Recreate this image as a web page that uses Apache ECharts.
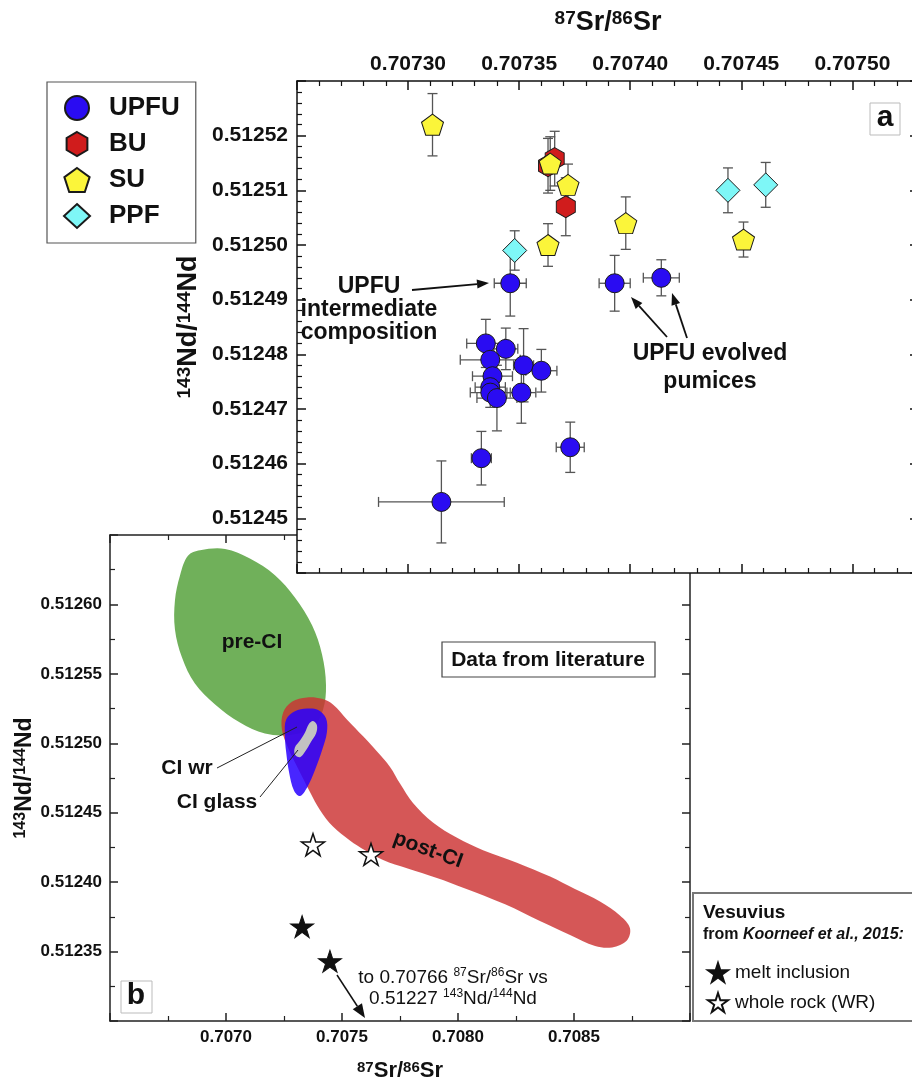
<!DOCTYPE html>
<html><head><meta charset="utf-8">
<script src="https://cdn.jsdelivr.net/npm/echarts@6/dist/echarts.min.js"></script>
<style>html,body{margin:0;padding:0;background:#fff}#c{width:912px;height:1084px}</style>
</head><body><div id="c"></div>
<script>
const FN = '"Liberation Sans",Arial,Helvetica,sans-serif';
const FS = '"Liberation Sans",Arial,Helvetica,sans-serif';

// ---------- Panel a : this study (87Sr/86Sr, 143Nd/144Nd) ----------
const upfu = [[0.707335,0.512482],[0.707344,0.512481],[0.707337,0.512479],[0.707352,0.512478],
  [0.707360,0.512477],[0.707338,0.512476],[0.707337,0.512474],[0.707337,0.512473],[0.707340,0.512472],
  [0.707351,0.512473],[0.707373,0.512463],[0.707333,0.512461],[0.707315,0.512453],[0.707346,0.512493],
  [0.707393,0.512493],[0.707414,0.512494]];
const upfuErr = [[0.0000086,0.0000044],[0.0000054,0.0000038],[0.0000135,0.0000027],[0.0000045,0.0000067],
  [0.0000070,0.0000039],[0.0000090,0.0000027],[0.0000068,0.0000022],[0.0000090,0.0000027],[0.0000090,0.0000060],
  [0.0000065,0.0000056],[0.0000063,0.0000046],[0.0000045,0.0000049],[0.0000283,0.0000075],[0.0000072,0.0000060],
  [0.0000070,0.0000051],[0.0000081,0.0000033]];
const bu = [[0.707366,0.5125158],[0.707363,0.5125145],[0.707371,0.512507]];
const buErr = [[0,0.0000050],[0,0.0000050],[0,0.0000053]];
const su = [[0.707311,0.512522],[0.707364,0.5125149],[0.707372,0.512511],[0.707398,0.512504],[0.707363,0.512500],[0.707451,0.512501]];
const suErr = [[0,0.0000057],[0,0.0000049],[0,0.0000038],[0,0.0000048],[0,0.0000039],[0,0.0000032]];
const ppf = [[0.707348,0.512499],[0.707444,0.512510],[0.707461,0.512511]];
const ppfErr = [[0,0.0000036],[0,0.0000041],[0,0.0000041]];

// ---------- Panel b : literature fields ----------
const preCI = [[0.706888,0.512639],[0.706996,0.512640],[0.707103,0.512633],[0.707211,0.512621],[0.707297,0.512605],
  [0.707371,0.512585],[0.707414,0.512564],[0.707431,0.512542],[0.707418,0.512524],[0.707371,0.512511],[0.707276,0.512506],
  [0.707168,0.512507],[0.707060,0.512515],[0.706953,0.512528],[0.706866,0.512543],[0.706810,0.512562],[0.706780,0.512582],
  [0.706780,0.512603],[0.706802,0.512621],[0.706836,0.512635]];
const postCI = [[0.707246,0.512522],[0.707284,0.512530],[0.707349,0.512533],[0.707414,0.512532],[0.707461,0.512528],
  [0.707522,0.512517],[0.707591,0.512505],[0.707651,0.512494],[0.707707,0.512483],[0.707750,0.512471],[0.707806,0.512457],
  [0.707892,0.512443],[0.707996,0.512432],[0.708108,0.512423],[0.708254,0.512414],[0.708397,0.512404],[0.708504,0.512395],
  [0.708612,0.512386],[0.708698,0.512376],[0.708741,0.512367],[0.708728,0.512358],[0.708664,0.512353],[0.708591,0.512354],
  [0.708483,0.512362],[0.708353,0.512372],[0.708203,0.512384],[0.708022,0.512396],[0.707909,0.512403],[0.707780,0.512410],
  [0.707677,0.512416],[0.707599,0.512423],[0.707534,0.512430],[0.707461,0.512440],[0.707405,0.512452],[0.707362,0.512465],
  [0.707310,0.512482],[0.707267,0.512497],[0.707241,0.512510]];
const ciGlass = [[0.707259,0.512517],[0.707297,0.512523],[0.707349,0.512525],[0.707397,0.512524],[0.707431,0.512518],
  [0.707435,0.512508],[0.707414,0.512495],[0.707384,0.512481],[0.707349,0.512468],[0.707319,0.512462],[0.707293,0.512466],
  [0.707272,0.512479],[0.707259,0.512494],[0.707254,0.512506]];
const ciWr = [[0.707358,0.512514],[0.707375,0.512516],[0.707392,0.512513],[0.707388,0.512507],[0.707366,0.512501],
  [0.707341,0.512494],[0.707319,0.512490],[0.707297,0.512492],[0.707297,0.512497],[0.707319,0.512502],[0.707341,0.512508]];
const meltInclusion = [[0.707328,0.512368],[0.707448,0.512343]];
const wholeRock = [[0.707375,0.512427],[0.707625,0.512420]];

// ---------- axis ranges ----------
const aSr = {min:0.70725, max:0.70753, step:0.00005};
const aNd = {min:0.51244, max:0.51253, step:0.00001};
const bSr = {min:0.7065, max:0.7090, step:0.0005};
const bNd = {min:0.51230, max:0.51265, step:0.00005};

const PENT = 'path://M0,-10L9.511,-3.09L5.878,8.09L-5.878,8.09L-9.511,-3.09Z';
const HEX = 'path://M0,-10L8.66,-5L8.66,5L0,10L-8.66,5L-8.66,-5Z';
const STAR = 'path://M0,-10L2.245,-3.09L9.511,-3.09L3.633,1.18L5.878,8.09L0,3.82L-5.878,8.09L-3.633,1.18L-9.511,-3.09L-2.245,-3.09Z';

function nameStyle(big, small) {
  return {fontFamily: FS, color:'#111', rich:{
    s:{fontSize:small, fontWeight:'bold', fontFamily:FS, color:'#111', verticalAlign:'top'},
    m:{fontSize:big, fontWeight:'bold', fontFamily:FS, color:'#111'}}};
}
function mkAxis(o) {
  const ax = {
    type:'value', gridIndex:o.grid, position:o.pos, min:o.r.min, max:o.r.max, interval:o.r.step, z:o.z,
    axisLine:{show:true, onZero:false, lineStyle:{color:o.color, width:1.5}},
    axisTick:{show:true, inside:true, length:o.tick, lineStyle:{color:o.color, width:1.5}},
    minorTick:{show:true, splitNumber:o.minor, length:5, lineStyle:{color:o.color, width:1.2}},
    splitLine:{show:false}, minorSplitLine:{show:false},
    axisLabel:{show:!!o.labels, margin:o.margin||6, showMinLabel:false, showMaxLabel:false,
      formatter:(v)=>v.toFixed(o.digits||5), fontFamily:FN, fontWeight:'bold', fontSize:o.fs||20, color:'#111'},
    nameMoveOverlap:false
  };
  if (o.name) {
    ax.name = o.name; ax.nameLocation = 'middle'; ax.nameGap = o.nameGap;
    ax.nameTextStyle = nameStyle(o.nb, o.ns);
    if (o.rot) ax.nameRotate = 90;
  }
  return ax;
}

function errRender(params, api) {
  const x = api.value(0), y = api.value(1), ex = api.value(2), ey = api.value(3);
  const c = api.coord([x, y]);
  const st = {stroke:'#555', lineWidth:1.3};
  const cap = 5, ch = [];
  const L = (x1,y1,x2,y2) => ch.push({type:'line', shape:{x1,y1,x2,y2}, style:st});
  if (ey > 0) {
    const t = api.coord([x, y + ey]), b = api.coord([x, y - ey]);
    L(c[0], t[1], c[0], b[1]); L(c[0]-cap, t[1], c[0]+cap, t[1]); L(c[0]-cap, b[1], c[0]+cap, b[1]);
  }
  if (ex > 0) {
    const l = api.coord([x - ex, y]), r = api.coord([x + ex, y]);
    L(l[0], c[1], r[0], c[1]); L(l[0], c[1]-cap, l[0], c[1]+cap); L(r[0], c[1]-cap, r[0], c[1]+cap);
  }
  return {type:'group', children:ch};
}
function errSeries(pts, errs) {
  return {type:'custom', xAxisIndex:0, yAxisIndex:0, z:5, silent:true, encode:{x:0, y:1},
    data: pts.map((p,i)=>[p[0], p[1], errs[i][0], errs[i][1]]), renderItem: errRender};
}
function polySeries(pts, fill, z) {
  return {type:'custom', xAxisIndex:2, yAxisIndex:2, z, silent:true, encode:{x:0, y:1}, data: pts,
    renderItem: (params, api) => {
      if (params.dataIndex !== 0) return {type:'group', children:[]};
      return {type:'polygon', shape:{points: pts.map(p => api.coord(p)), smooth:0.35}, style:{fill}};
    }};
}
function scat(name, data, symbol, size, color) {
  return {type:'scatter', name, xAxisIndex:0, yAxisIndex:0, z:6, data, symbol, symbolSize:size,
    itemStyle:{color, borderColor:'#1a1a1a', borderWidth:1, opacity:1}, emphasis:{disabled:true}};
}

// ---------- annotations ----------
const G = [];
function txt(x, y, text, font, extra) {
  const e = {type:'text', x, y, z:30, silent:true,
    style:Object.assign({text, font, fill:'#111', align:'center', verticalAlign:'middle'}, (extra && extra.style) || {})};
  if (extra && extra.rotation) e.rotation = extra.rotation;
  G.push(e);
}
function line(x1,y1,x2,y2,w) { G.push({type:'line', z:30, silent:true, shape:{x1,y1,x2,y2}, style:{stroke:'#222', lineWidth:w||1}}); }
function arrow(x1,y1,x2,y2,head,hw,w) {
  const a = Math.atan2(y2-y1, x2-x1);
  const bx = x2 - head*Math.cos(a), by = y2 - head*Math.sin(a);
  const px = -Math.sin(a)*hw, py = Math.cos(a)*hw;
  G.push({type:'line', z:30, silent:true, shape:{x1,y1,x2:bx,y2:by}, style:{stroke:'#111', lineWidth:w}});
  G.push({type:'polygon', z:30, silent:true, shape:{points:[[x2,y2],[bx+px,by+py],[bx-px,by-py]]}, style:{fill:'#111'}});
}
function rect(x,y,w,h,stroke,lw) { G.push({type:'rect', z:29, silent:true, shape:{x,y,width:w,height:h}, style:{fill:'#fff', stroke, lineWidth:lw}}); }

const B23 = 'bold 23px ' + FS, B21 = 'bold 21px ' + FS;
// panel a
G.push({type:'text', x:369, y:275, z:30, silent:true, style:{text:'UPFU\nintermediate\ncomposition', font:B23, fill:'#111', align:'center', verticalAlign:'top', lineHeight:23}});
arrow(412, 290, 489, 283, 12, 4.5, 1.8);
G.push({type:'text', x:710, y:340, z:30, silent:true, style:{text:'UPFU evolved\npumices', font:B23, fill:'#111', align:'center', verticalAlign:'top', lineHeight:28}});
arrow(667, 337, 631, 297, 12, 4.5, 1.8);
arrow(687, 338, 672, 293, 12, 4.5, 1.8);
rect(870, 103, 30, 32, '#bbb', 1);
txt(885, 118, 'a', 'bold 30px ' + FS);
// panel b
txt(252, 642, 'pre-CI', B21);
txt(187, 768, 'CI wr', B21);
line(217, 768, 297, 727, 1);
txt(217, 802, 'CI glass', B21);
line(260, 797, 298, 750, 1);
txt(428, 850, 'post-CI', B21, {rotation: -20*Math.PI/180});
rect(442, 642, 213, 35, '#444', 1.2);
txt(548, 660, 'Data from literature', B21);
rect(121, 981, 31, 32, '#bbb', 1);
txt(136, 996, 'b', 'bold 30px ' + FS);
arrow(337, 975, 365, 1018, 14, 5.5, 1.5);
G.push({type:'text', x:453, y:967, z:30, silent:true, style:{
  text:'to 0.70766 {s|87}Sr/{s|86}Sr vs\n0.51227 {s|143}Nd/{s|144}Nd',
  font:'19px ' + FS, fill:'#111', align:'center', verticalAlign:'top', lineHeight:21,
  rich:{s:{fontSize:12, fontFamily:FS, fill:'#111', verticalAlign:'top'}}}});
// Vesuvius box
rect(693, 893, 240, 128, '#777', 2);
G.push({type:'text', x:703, y:913, z:30, silent:true, style:{text:'Vesuvius', font:'bold 19px ' + FS, fill:'#111', align:'left', verticalAlign:'middle'}});
G.push({type:'text', x:703, y:935, z:30, silent:true, style:{text:'from {i|Koorneef et al., 2015:}', font:'bold 16px ' + FS, fill:'#111', align:'left', verticalAlign:'middle',
  rich:{i:{fontStyle:'italic', fontWeight:'bold', fontSize:16, fontFamily:FS, fill:'#111'}}}});

const chart = echarts.init(document.getElementById('c'), null, {renderer:'canvas'});
chart.setOption({
  animation:false,
  backgroundColor:'#fff',
  grid:[
    {left:297, top:81, width:622, height:492, show:true, backgroundColor:'#fff', borderWidth:0, z:3, containLabel:false, outerBoundsMode:'none'},
    {left:110, top:535, width:580, height:486, show:false, containLabel:false, outerBoundsMode:'none'}
  ],
  xAxis:[
    mkAxis({grid:0, pos:'top', r:aSr, minor:5, tick:9, labels:true, digits:5, fs:21, margin:6, color:'#111', z:4,
      name:'{s|87}{m|Sr/}{s|86}{m|Sr}', nameGap:45, nb:27, ns:19}),
    mkAxis({grid:0, pos:'bottom', r:aSr, minor:5, tick:9, labels:false, color:'#111', z:4}),
    mkAxis({grid:1, pos:'bottom', r:bSr, minor:2, tick:8, labels:true, digits:4, fs:17, margin:8, color:'#222', z:0,
      name:'{s|87}{m|Sr/}{s|86}{m|Sr}', nameGap:39, nb:22, ns:15}),
    mkAxis({grid:1, pos:'top', r:bSr, minor:2, tick:8, labels:false, color:'#222', z:0})
  ],
  yAxis:[
    mkAxis({grid:0, pos:'left', r:aNd, minor:5, tick:9, labels:true, digits:5, fs:21, margin:9, color:'#111', z:4,
      name:'{s|143}{m|Nd/}{s|144}{m|Nd}', nameGap:95, nb:27, ns:19, rot:true}),
    mkAxis({grid:0, pos:'right', r:aNd, minor:5, tick:9, labels:false, color:'#111', z:4}),
    mkAxis({grid:1, pos:'left', r:bNd, minor:2, tick:8, labels:true, digits:5, fs:17, margin:8, color:'#222', z:0,
      name:'{s|143}{m|Nd/}{s|144}{m|Nd}', nameGap:74, nb:23, ns:16, rot:true}),
    mkAxis({grid:1, pos:'right', r:bNd, minor:2, tick:8, labels:false, color:'#222', z:0})
  ],
  legend:[
    {data:['UPFU','BU','SU','PPF'], orient:'vertical', left:47, top:82, itemWidth:26, itemHeight:24, itemGap:10,
      padding:[13,16,14,16], borderColor:'#555', borderWidth:1.2, backgroundColor:'#fff', selectedMode:false,
      textStyle:{fontSize:26, fontWeight:'bold', color:'#111', fontFamily:FS, padding:[0,0,0,14]}},
    {data:['melt inclusion','whole rock (WR)'], orient:'vertical', left:707, top:962, itemWidth:20, itemHeight:20, itemGap:9,
      padding:0, selectedMode:false, z:40, textStyle:{fontSize:19, color:'#111', fontFamily:FS, padding:[0,0,0,2]}}
  ],
  series:[
    polySeries(preCI, '#70b05a', 1),
    polySeries(postCI, 'rgba(204,50,50,0.82)', 1),
    polySeries(ciGlass, 'rgba(40,0,255,0.85)', 1),
    polySeries(ciWr, '#c2c2c2', 1),
    {type:'scatter', name:'melt inclusion', xAxisIndex:2, yAxisIndex:2, z:2, data:meltInclusion, symbol:STAR, symbolSize:[23,22],
      itemStyle:{color:'#111', borderColor:'#111', borderWidth:1, opacity:1}, emphasis:{disabled:true}},
    {type:'scatter', name:'whole rock (WR)', xAxisIndex:2, yAxisIndex:2, z:2, data:wholeRock, symbol:STAR, symbolSize:[23,22],
      itemStyle:{color:'#fff', borderColor:'#111', borderWidth:1.5, opacity:1}, emphasis:{disabled:true}},
    errSeries(upfu, upfuErr), errSeries(bu, buErr), errSeries(su, suErr), errSeries(ppf, ppfErr),
    scat('UPFU', upfu, 'circle', 19, '#2a0cf2'),
    scat('BU', bu, HEX, [19,22], '#d01c1c'),
    scat('SU', su, PENT, [22,21], '#fbf53a'),
    scat('PPF', ppf, 'diamond', [24,24], '#7ef7f7')
  ],
  graphic:{elements:G}
});
</script></body></html>
